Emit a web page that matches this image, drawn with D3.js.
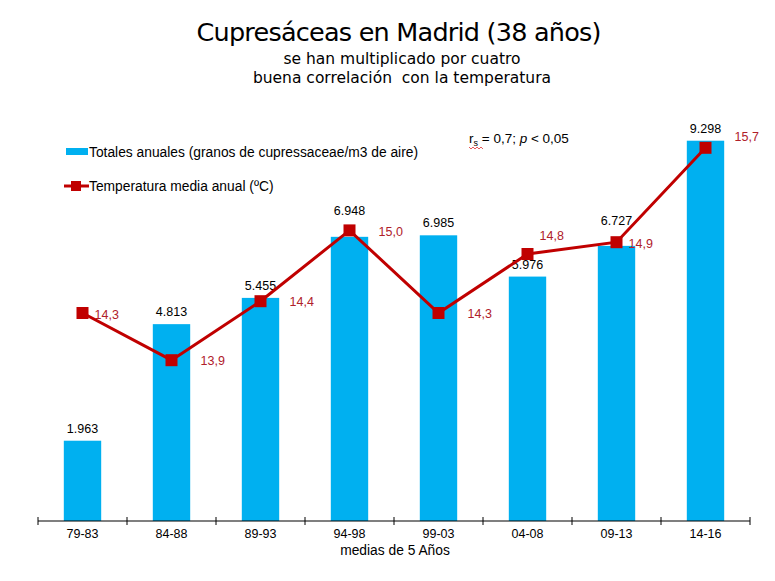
<!DOCTYPE html>
<html><head><meta charset="utf-8">
<script src="https://cdn.jsdelivr.net/npm/d3@7"></script>
<style>body{margin:0;background:#fff}svg{display:block}</style>
</head><body>
<svg id="c" width="775" height="581"></svg>
<script>
const categories = ["79-83","84-88","89-93","94-98","99-03","04-08","09-13","14-16"];
const totals = [1963, 4813, 5455, 6948, 6985, 5976, 6727, 9298];
const temperatures = [14.3, 13.9, 14.4, 15.0, 14.3, 14.8, 14.9, 15.7];
const titleText = "Cupresáceas en Madrid (38 años)";
const subtitles = ["se han multiplicado por cuatro", "buena correlación  con la temperatura"];
const seriesNames = ["Totales anuales (granos de cupressaceae/m3 de aire)", "Temperatura media anual (ºC)"];
const xAxisTitle = "medias de 5 Años";

const svg = d3.select("#c");
const barColor = "#00b0f0", lineColor = "#c00000", tLabelColor = "#b0202a";
const x = d3.scaleBand().domain(categories).range([38, 750]).padding(0);
const y = d3.scaleLinear().domain([0, 10000]).range([521, 112]);
const y2 = d3.scaleLinear().domain([12.5, 16]).range([525.4, 112.4]);
const fmtN = d3.formatLocale({decimal:",", thousands:".", grouping:[3], currency:["",""]}).format(",.0f");
const fmtT = d => d.toFixed(1).replace(".", ",");
const bw = x.bandwidth() * 0.42;
const cx = c => x(c) + x.bandwidth() / 2;
const font = "Liberation Sans, Arial, sans-serif";

// title
svg.append("text").attr("x", 399).attr("y", 41).attr("text-anchor","middle")
  .style("font-family","DejaVu Sans, Tahoma, sans-serif").style("font-size","25.5px").attr("fill","#000")
  .attr("textLength", 405).text(titleText);
subtitles.forEach((s,i) => svg.append("text").attr("x", 402).attr("y", 64 + i*19).attr("text-anchor","middle")
  .style("font-family","DejaVu Sans, Tahoma, sans-serif").style("font-size","15.5px").style("white-space","pre")
  .attr("fill","#000").text(s));

// bars
svg.append("g").selectAll("rect").data(categories).join("rect")
  .attr("x", c => cx(c) - bw/2).attr("width", bw)
  .attr("y", (c,i) => y(totals[i])).attr("height", (c,i) => y(0) - y(totals[i]))
  .attr("fill", barColor);
const barLabelNudge = {"94-98": -14, "09-13": -13};
svg.append("g").selectAll("text").data(categories).join("text")
  .attr("x", c => cx(c)).attr("y", (c,i) => y(totals[i]) - 8 + (barLabelNudge[c] || 0)).attr("text-anchor","middle")
  .style("font-family", font).style("font-size","12.5px").attr("fill","#000")
  .text((c,i) => fmtN(totals[i]));

// x axis
const ax = svg.append("g").attr("transform","translate(0,521)");
ax.append("line").attr("x1",38).attr("x2",750).attr("stroke","#000").attr("stroke-width",1.2);
const tickPos = categories.map(c => x(c)).concat([x.range()[1]]);
ax.selectAll("line.t").data(tickPos).join("line").attr("class","t")
  .attr("x1", d=>d).attr("x2", d=>d).attr("y1",-4).attr("y2",4).attr("stroke","#000");
ax.selectAll("text").data(categories).join("text")
  .attr("x", c => cx(c)).attr("y", 17).attr("text-anchor","middle")
  .style("font-family", font).style("font-size","12.5px").text(c=>c);
svg.append("text").attr("x", 395).attr("y", 555).attr("text-anchor","middle")
  .style("font-family", font).style("font-size","13.8px").text(xAxisTitle);

// line
const line = d3.line().x((d,i) => cx(categories[i])).y(d => y2(d));
svg.append("path").datum(temperatures).attr("d", line).attr("fill","none")
  .attr("stroke", lineColor).attr("stroke-width", 3);
svg.append("g").selectAll("rect").data(temperatures).join("rect")
  .attr("x", (d,i) => cx(categories[i]) - 6).attr("y", d => y2(d) - 6)
  .attr("width", 12).attr("height", 12).attr("fill", lineColor);
const tempLabelOffset = {"79-83":[12,1], "84-88":[29,0], "89-93":[29,0], "94-98":[29,1],
  "99-03":[29,0], "04-08":[12,-19], "09-13":[12,1], "14-16":[29,-11]};
svg.append("g").selectAll("text").data(temperatures).join("text")
  .attr("x", (d,i) => cx(categories[i]) + tempLabelOffset[categories[i]][0])
  .attr("y", (d,i) => y2(d) + 4.5 + tempLabelOffset[categories[i]][1])
  .style("font-family", font).style("font-size","12.5px").attr("fill", tLabelColor)
  .text(d => fmtT(d));

// legend
const lg = svg.append("g");
lg.append("rect").attr("x",66).attr("y",148).attr("width",22).attr("height",7).attr("fill",barColor);
lg.append("text").attr("x",89).attr("y",157).style("font-family", font)
  .style("font-size","13.8px").text(seriesNames[0]);
lg.append("line").attr("x1",64).attr("x2",89).attr("y1",186).attr("y2",186).attr("stroke",lineColor).attr("stroke-width",3);
lg.append("rect").attr("x",71).attr("y",181).attr("width",10).attr("height",10).attr("fill",lineColor);
lg.append("text").attr("x",89).attr("y",191).style("font-family", font)
  .style("font-size","13.8px").text(seriesNames[1]);

// correlation annotation
const ann = svg.append("text").attr("x",469).attr("y",143)
  .style("font-family", font).style("font-size","13.5px").attr("fill","#000");
ann.append("tspan").text("r");
ann.append("tspan").attr("dy",3).style("font-size","9px").text("s");
ann.append("tspan").attr("dy",-3).text(" = 0,7; ");
ann.append("tspan").style("font-style","italic").text("p");
ann.append("tspan").text(" < 0,05");
svg.append("path").attr("d","M469,147 l2,2 l2,-2 l2,2 l2,-2 l2,2 l2,-2 l2,2")
  .attr("fill","none").attr("stroke","#e03030").attr("stroke-width",0.8);
</script>
</body></html>
